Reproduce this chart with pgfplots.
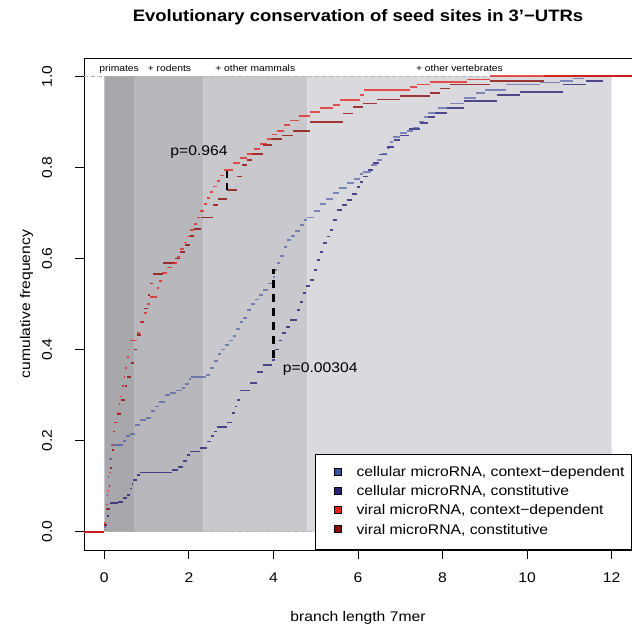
\documentclass[border=0pt]{standalone}
\usepackage{fontspec}
\setmainfont[FakeStretch=1.12]{Liberation Sans}
\usepackage{pgfplots}
\pgfplotsset{compat=1.18}
\definecolor{gA}{HTML}{A8A7AC}
\definecolor{gB}{HTML}{B8B7BC}
\definecolor{gC}{HTML}{C9C8CC}
\definecolor{gD}{HTML}{DAD9DE}
\definecolor{gdash}{HTML}{B4B4B4}
\definecolor{caL}{HTML}{3B4EA2}
\definecolor{cbL}{HTML}{2C2376}
\definecolor{vaL}{HTML}{E4201B}
\definecolor{vbL}{HTML}{8C0E08}
\newcommand{\fs}{\fontsize{14bp}{16bp}\selectfont}
\begin{document}
\begin{tikzpicture}
\begin{axis}[
  scale only axis, width=548bp, height=492bp,
  xmin=-0.48, xmax=12.48, ymin=-0.04, ymax=1.04,
  axis line style={black, line width=0.9bp},
  xtick={0,2,4,6,8,10,12}, xticklabels={0,2,4,6,8,10,12},
  ytick={0,0.2,0.4,0.6,0.8,1}, yticklabels={0.0,0.2,0.4,0.6,0.8,1.0},
  tick pos=left, tick align=outside, major tick length=9bp,
  tick style={black, line width=0.9bp},
  tick label style={font=\fs},
  xticklabel style={anchor=base}, xticklabel shift=24bp,
  yticklabel style={rotate=90, anchor=base}, yticklabel shift=23bp,
  xlabel={branch length 7mer},
  xlabel style={font=\fs, at={(axis description cs:0.5,0)}, anchor=base, yshift=-71bp},
  ylabel={cumulative frequency},
  ylabel style={font=\fs, at={(axis description cs:-0.0985,0.5)}, anchor=base},
  title={Evolutionary conservation of seed sites in 3'−UTRs},
  title style={font=\bfseries\fontsize{16.5bp}{18bp}\selectfont, at={(axis description cs:0.5,1)}, anchor=base, yshift=31bp},
  legend style={at={(rel axis cs:1,0)}, anchor=south east, draw=black, line width=0.9bp, fill=white,
    inner xsep=7bp, inner ysep=12.5bp, row sep=6.1bp, column sep=0bp, font=\fs,
    nodes={inner sep=0pt, text height=10bp, text depth=3bp}},
  legend cell align=left,
  legend image code/.code={\path (-11.5bp,0) (21.5bp,0); \draw[#1, draw=black, line width=0.6bp] (0bp,-2bp) rectangle (7bp,5bp);},
]
% shaded lineage bands
\addplot[fill=gA, draw=none, forget plot] coordinates {(0,0) (0.7,0) (0.7,1) (0,1) (0,0)};
\addplot[fill=gB, draw=none, forget plot] coordinates {(0.7,0) (2.35,0) (2.35,1) (0.7,1) (0.7,0)};
\addplot[fill=gC, draw=none, forget plot] coordinates {(2.35,0) (4.8,0) (4.8,1) (2.35,1) (2.35,0)};
\addplot[fill=gD, draw=none, forget plot] coordinates {(4.8,0) (12,0) (12,1) (4.8,1) (4.8,0)};
% reference lines
\addplot[gdash, line width=1.2bp, dash pattern=on 4bp off 3bp, forget plot] coordinates {(-0.48,0) (12.48,0)};
\addplot[gdash, line width=1.2bp, dash pattern=on 4bp off 3bp, forget plot] coordinates {(-0.48,1) (12.48,1)};
% cellular, constitutive
\addplot[jump mark left, color=cbL, line width=1.8bp, opacity=0.8, forget plot] table {
x y
-0.48 0
0.0 0.005
0.02 0.015
0.06 0.034
0.10 0.05
0.14 0.063
0.33 0.066
0.45 0.075
0.54 0.081
0.60 0.095
0.65 0.105
0.69 0.114
0.78 0.125
0.85 0.13
1.60 0.136
1.75 0.143
1.85 0.155
1.95 0.168
2.03 0.176
2.27 0.184
2.43 0.198
2.52 0.21
2.60 0.22
2.66 0.23
2.90 0.24
3.02 0.26
3.08 0.275
3.14 0.29
3.21 0.31
3.45 0.327
3.60 0.35
3.76 0.366
3.96 0.377
4.04 0.40
4.12 0.42
4.20 0.436
4.30 0.45
4.40 0.465
4.55 0.487
4.62 0.505
4.70 0.524
4.78 0.54
4.87 0.553
4.95 0.575
5.02 0.596
5.10 0.615
5.18 0.634
5.26 0.648
5.34 0.662
5.42 0.685
5.50 0.706
5.62 0.718
5.73 0.728
5.85 0.742
5.97 0.757
6.05 0.768
6.12 0.78
6.24 0.795
6.36 0.81
6.50 0.828
6.68 0.845
6.85 0.86
7.00 0.87
7.20 0.885
7.47 0.897
7.65 0.91
7.82 0.92
8.10 0.93
8.50 0.945
9.28 0.958
9.83 0.966
10.85 0.982
11.40 0.99
11.80 1.0
12.48 1.0
};
% cellular, context-dependent
\addplot[jump mark left, color=caL, line width=1.8bp, opacity=0.6, forget plot] table {
x y
-0.48 0
0.0 0.01
0.03 0.04
0.06 0.08
0.09 0.12
0.12 0.16
0.15 0.19
0.45 0.20
0.52 0.21
0.60 0.215
0.73 0.235
0.85 0.245
0.98 0.25
1.10 0.265
1.20 0.275
1.30 0.285
1.44 0.30
1.55 0.305
1.70 0.31
1.84 0.315
1.92 0.325
2.00 0.335
2.05 0.34
2.40 0.345
2.50 0.36
2.60 0.375
2.68 0.39
2.76 0.40
2.86 0.41
2.96 0.42
3.05 0.43
3.12 0.445
3.20 0.46
3.28 0.47
3.37 0.487
3.47 0.50
3.57 0.51
3.66 0.52
3.76 0.53
3.86 0.545
4.00 0.56
4.04 0.575
4.08 0.59
4.16 0.605
4.24 0.625
4.32 0.64
4.42 0.65
4.52 0.66
4.63 0.673
4.72 0.685
4.80 0.69
4.95 0.705
5.10 0.72
5.25 0.73
5.40 0.743
5.55 0.755
5.73 0.765
5.90 0.775
6.05 0.785
6.12 0.79
6.30 0.805
6.44 0.816
6.56 0.83
6.68 0.842
6.76 0.855
6.83 0.867
7.00 0.875
7.15 0.88
7.30 0.886
7.45 0.90
7.55 0.91
7.65 0.92
7.90 0.93
8.17 0.94
8.50 0.952
8.80 0.964
9.00 0.97
9.51 0.982
10.30 0.986
10.77 0.99
11.08 0.995
11.35 1.0
12.48 1.0
};
% viral, constitutive
\addplot[jump mark left, color=vbL, line width=1.8bp, opacity=0.8, forget plot] table {
x y
-0.48 0
0.0 0.015
0.05 0.05
0.10 0.10
0.14 0.14
0.18 0.18
0.22 0.22
0.26 0.24
0.30 0.258
0.40 0.29
0.48 0.32
0.54 0.34
0.62 0.37
0.70 0.40
0.77 0.432
0.86 0.46
0.95 0.49
1.03 0.52
1.09 0.545
1.16 0.566
1.40 0.59
1.68 0.60
1.78 0.615
1.90 0.63
2.02 0.65
2.12 0.665
2.29 0.69
2.58 0.717
2.70 0.73
2.90 0.75
3.13 0.78
3.25 0.805
3.37 0.816
3.50 0.83
3.76 0.849
3.96 0.863
4.20 0.87
4.47 0.88
4.87 0.90
5.65 0.918
5.89 0.933
6.12 0.94
6.44 0.949
7.00 0.956
7.70 0.964
7.94 0.973
8.17 0.982
9.12 0.99
10.40 1.0
12.48 1.0
};
% viral, context-dependent
\addplot[jump mark left, color=vaL, line width=1.8bp, opacity=0.75, forget plot] table {
x y
-0.48 0
0.0 0.02
0.04 0.06
0.08 0.09
0.12 0.13
0.15 0.16
0.18 0.19
0.20 0.22
0.22 0.24
0.30 0.26
0.34 0.28
0.38 0.297
0.42 0.32
0.46 0.34
0.50 0.36
0.54 0.384
0.58 0.40
0.61 0.42
0.77 0.436
0.85 0.46
0.93 0.48
1.00 0.50
1.09 0.516
1.24 0.535
1.30 0.55
1.36 0.568
1.48 0.58
1.60 0.59
1.72 0.604
1.80 0.62
1.88 0.635
1.95 0.648
2.03 0.662
2.11 0.676
2.19 0.69
2.27 0.705
2.35 0.72
2.42 0.733
2.50 0.746
2.58 0.758
2.66 0.77
2.74 0.782
2.82 0.794
3.05 0.81
3.21 0.82
3.37 0.83
3.53 0.84
3.68 0.852
3.84 0.863
3.96 0.872
4.08 0.88
4.24 0.893
4.39 0.903
4.60 0.912
4.87 0.922
5.10 0.93
5.42 0.936
5.58 0.947
6.05 0.958
6.13 0.969
6.52 0.97
7.23 0.976
7.39 0.982
7.70 0.987
8.57 0.993
9.12 1.0
12.48 1.0
};
% KS distance markers
\addplot[black, line width=2.4bp, dash pattern=on 7bp off 5bp, forget plot] coordinates {(2.9,0.75) (2.9,0.794)};
\addplot[black, line width=2.4bp, dash pattern=on 8bp off 6bp, forget plot] coordinates {(4.0,0.382) (4.0,0.577)};
% legend
\addlegendimage{fill=caL}\addlegendentry{cellular microRNA, context−dependent}
\addlegendimage{fill=cbL}\addlegendentry{cellular microRNA, constitutive}
\addlegendimage{fill=vaL}\addlegendentry{viral microRNA, context−dependent}
\addlegendimage{fill=vbL}\addlegendentry{viral microRNA, constitutive}
% annotations
\node[font=\fs, anchor=base west, inner sep=0pt] at (axis cs:1.56,0.827) {p=0.964};
\node[font=\fs, anchor=base west, inner sep=0pt] at (axis cs:4.22,0.349) {p=0.00304};
\node[font=\fontsize{9.2bp}{11bp}\selectfont, anchor=base, inner sep=0pt] at (axis cs:0.35,1.01) {primates};
\node[font=\fontsize{9.2bp}{11bp}\selectfont, anchor=base, inner sep=0pt] at (axis cs:1.54,1.01) {+ rodents};
\node[font=\fontsize{9.2bp}{11bp}\selectfont, anchor=base, inner sep=0pt] at (axis cs:3.57,1.01) {+ other mammals};
\node[font=\fontsize{9.2bp}{11bp}\selectfont, anchor=base, inner sep=0pt] at (axis cs:8.4,1.01) {+ other vertebrates};
\end{axis}
\pgfresetboundingbox
\path[use as bounding box] ([shift={(-84bp,-74bp)}]current axis.south west) rectangle ([shift={(0bp,58bp)}]current axis.north east);
\end{tikzpicture}
\end{document}
